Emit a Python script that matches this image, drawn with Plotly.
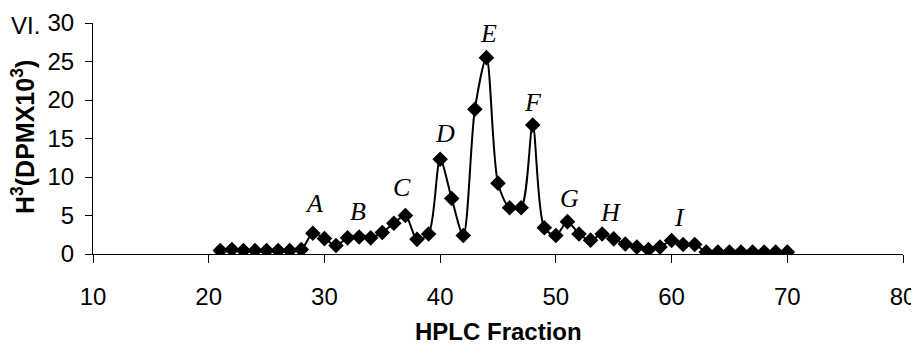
import plotly.graph_objects as go

fractions = list(range(21, 71))
dpm = [0.45, 0.58, 0.45, 0.45, 0.45, 0.45, 0.45, 0.58,
       2.7, 2.0, 1.1, 2.1, 2.2, 2.1, 2.8, 4.0, 5.0, 1.9, 2.6,
       12.3, 7.2, 2.4, 18.8, 25.5, 9.2, 6.0, 6.0, 16.75, 3.4, 2.4,
       4.2, 2.6, 1.8, 2.6, 1.97, 1.3, 0.9, 0.58, 0.9, 1.75, 1.23, 1.23,
       0.25, 0.25, 0.25, 0.25, 0.25, 0.25, 0.25, 0.25]

peak_labels = ["A", "B", "C", "D", "E", "F", "G", "H", "I"]
peak_x = [29.1, 32.9, 36.7, 40.4, 44.2, 48.0, 51.2, 54.7, 60.7]
peak_y = [6.6, 5.5, 8.6, 15.6, 28.6, 19.7, 7.2, 5.4, 4.7]

x_ticks = [10, 20, 30, 40, 50, 60, 70, 80]
y_ticks = [0, 5, 10, 15, 20, 25, 30]

# page body adds an 8px offset; figure is sized to fill the rest of the window
OFF = 8
W, H = 919 - OFF, 346 - OFF
AX_L, AX_R, AX_T, AX_B = 93, 903, 23, 254  # plot area in window pixels
L, R, T, B = AX_L - OFF, 919 - AX_R, AX_T - OFF, 346 - AX_B
pw, ph = AX_R - AX_L, AX_B - AX_T

fig = go.Figure()
fig.add_trace(go.Scatter(
    x=fractions, y=dpm, mode="lines+markers",
    line=dict(color="black", width=2, shape="spline", smoothing=0.8),
    marker=dict(symbol="diamond", size=12, color="black"),
    showlegend=False))

for lab, lx, ly in zip(peak_labels, peak_x, peak_y):
    fig.add_annotation(x=lx, y=ly, text=f"<i>{lab}</i>", showarrow=False,
                       font=dict(family="Liberation Serif", size=26, color="black"))

fig.add_annotation(xref="paper", yref="paper", x=(25.5 - AX_L) / pw, y=(AX_B - 25) / ph,
                   text="VI.", showarrow=False, xanchor="center", yanchor="middle",
                   font=dict(family="Liberation Sans", size=24, color="black"))

fig.add_annotation(xref="paper", yref="paper", x=0.5, y=-(331 - AX_B) / ph,
                   text="<b>HPLC Fraction</b>", showarrow=False,
                   xanchor="center", yanchor="middle",
                   font=dict(family="Liberation Sans", size=24, color="black"))

fig.add_annotation(xref="paper", yref="paper", x=(23 - AX_L) / pw, y=(AX_B - 137) / ph,
                   text="<b>H<sup>3</sup>(DPMX10<sup>3</sup>)</b>", showarrow=False,
                   textangle=-90, xanchor="center", yanchor="middle",
                   font=dict(family="Liberation Sans", size=25, color="black"))

fig.update_layout(
    width=W, height=H,
    margin=dict(l=L, r=R, t=T, b=B),
    plot_bgcolor="white", paper_bgcolor="white",
    font=dict(family="Liberation Sans", color="black"),
    xaxis=dict(range=[10, 80], tickvals=x_ticks, showgrid=False, zeroline=False,
               showline=True, linecolor="black", linewidth=1,
               ticks="outside", ticklen=8, tickcolor="black",
               tickfont=dict(size=24), ticklabelstandoff=13, automargin=False),
    yaxis=dict(range=[0, 30], tickvals=y_ticks, showgrid=False, zeroline=False,
               showline=True, linecolor="black", linewidth=1,
               ticks="outside", ticklen=7, tickcolor="black",
               tickfont=dict(size=24), ticklabelstandoff=6, automargin=False),
)

fig.write_html("out.html")
